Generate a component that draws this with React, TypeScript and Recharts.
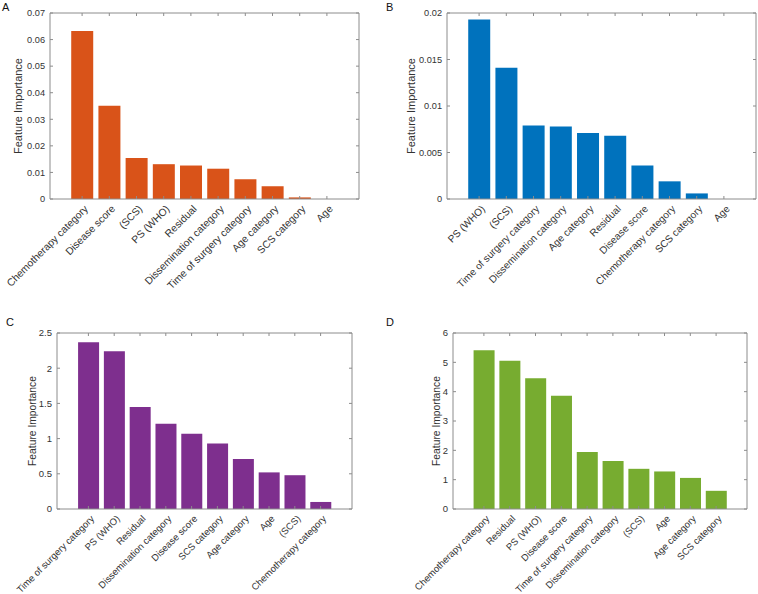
import { Bar, BarChart, XAxis, YAxis } from 'recharts';

// panel A
const featuresA = ['Chemotherapy category', 'Disease score', '(SCS)', 'PS (WHO)', 'Residual', 'Dissemination category', 'Time of surgery category', 'Age category', 'SCS category', 'Age'];
const valuesA = [0.0632, 0.0351, 0.0154, 0.0131, 0.0126, 0.0114, 0.0074, 0.0048, 0.0006, 0];
const ticksA = [0, 0.01, 0.02, 0.03, 0.04, 0.05, 0.06, 0.07];

// panel B
const featuresB = ['PS (WHO)', '(SCS)', 'Time of surgery category', 'Dissemination category', 'Age category', 'Residual', 'Disease score', 'Chemotherapy category', 'SCS category', 'Age'];
const valuesB = [0.0193, 0.0141, 0.0079, 0.0078, 0.0071, 0.0068, 0.0036, 0.0019, 0.0006, 0];
const ticksB = [0, 0.005, 0.01, 0.015, 0.02];

// panel C
const featuresC = ['Time of surgery category', 'PS (WHO)', 'Residual', 'Dissemination category', 'Disease score', 'SCS category', 'Age category', 'Age', '(SCS)', 'Chemotherapy category'];
const valuesC = [2.37, 2.24, 1.45, 1.21, 1.07, 0.93, 0.71, 0.52, 0.48, 0.1];
const ticksC = [0, 0.5, 1, 1.5, 2, 2.5];

// panel D
const featuresD = ['Chemotherapy category', 'Residual', 'PS (WHO)', 'Disease score', 'Time of surgery category', 'Dissemination category', '(SCS)', 'Age', 'Age category', 'SCS category'];
const valuesD = [5.41, 5.05, 4.46, 3.86, 1.94, 1.64, 1.37, 1.28, 1.06, 0.62];
const ticksD = [0, 1, 2, 3, 4, 5, 6];

const FONT = '"Liberation Sans", Arial, Helvetica, sans-serif';
const BOX = '#8c8c8c';
const TEXT = '#333333';

const toRows = (features: string[], values: number[]) =>
  features.map((feature, i) => ({ feature, value: values[i] }));

const Empty = () => <g />;

type PanelProps = {
  features: string[];
  values: number[];
  ticks: number[];
  color: string;
  left: number;
  top: number;
  margin: { top: number; right: number; bottom: number; left: number };
  xHeight: number;
  pad: number;
  labelSize: number;
  tickSize: number;
};

function Panel({ features, values, ticks, color, left, top, margin, xHeight, pad, labelSize, tickSize }: PanelProps) {
  const yMax = ticks[ticks.length - 1];
  const line = { stroke: BOX, strokeWidth: 1 };
  const CategoryTick = (props: any) => {
    const { x, y, payload } = props;
    const tx = x + 4;
    const ty = y + 8;
    return (
      <text x={tx} y={ty} dy="0.35em" textAnchor="end" transform={`rotate(-45 ${tx} ${ty})`}
        fontSize={labelSize} fill={TEXT} fontFamily={FONT}>
        {payload.value}
      </text>
    );
  };
  return (
    <div style={{ position: 'absolute', left, top }}>
      <BarChart width={379} height={297} data={toRows(features, values)} margin={margin} barCategoryGap="10%">
        <XAxis dataKey="feature" interval={0} height={xHeight} padding={{ left: pad, right: pad }}
          axisLine={line} tickLine={line} tickSize={-3} tickMargin={3} tick={<CategoryTick />} />
        <XAxis xAxisId="top" dataKey="feature" orientation="top" height={1} padding={{ left: pad, right: pad }}
          axisLine={line} tickLine={line} tickSize={-3} tick={<Empty />} interval={0} />
        <YAxis type="number" domain={[0, yMax]} ticks={ticks} width={40} tickSize={-3} tickMargin={8}
          axisLine={line} tickLine={line}
          allowDataOverflow tick={{ fill: TEXT, fontSize: tickSize, fontFamily: FONT }} />
        <YAxis yAxisId="right" orientation="right" type="number" domain={[0, yMax]} ticks={ticks} width={1}
          axisLine={line} tickLine={line} tickSize={-3} allowDataOverflow tick={<Empty />} />
        <Bar dataKey="value" fill={color} isAnimationActive={false} />
      </BarChart>
    </div>
  );
}

export default function App() {
  const letter = { fontSize: 11, fill: '#111', fontFamily: FONT };
  const ylab = (x: number, y: number, size: number) => (
    <text x={x} y={y} dy="0.35em" textAnchor="middle" transform={`rotate(-90 ${x} ${y})`}
      fontSize={size} fill={TEXT} fontFamily={FONT}>
      Feature Importance
    </text>
  );
  return (
    <div style={{ position: 'absolute', left: 0, top: 0, width: 758, height: 594, background: '#fff' }}>
      <Panel features={featuresA} values={valuesA} ticks={ticksA} color="#D95319" left={0} top={0}
        margin={{ top: 12, right: 19, bottom: 8, left: 10 }} xHeight={90} pad={18.5} labelSize={10.3} tickSize={9.2} />
      <Panel features={featuresB} values={valuesB} ticks={ticksB} color="#0072BD" left={379} top={0}
        margin={{ top: 12, right: 1, bottom: 8, left: 28 }} xHeight={90} pad={18.5} labelSize={10.1} tickSize={9.2} />
      <Panel features={featuresC} values={valuesC} ticks={ticksC} color="#7E2F8E" left={0} top={297}
        margin={{ top: 35, right: 26, bottom: 5, left: 17 }} xHeight={80} pad={18.5} labelSize={9.5} tickSize={9.5} />
      <Panel features={featuresD} values={valuesD} ticks={ticksD} color="#77AC30" left={379} top={297}
        margin={{ top: 35, right: 10, bottom: 5, left: 34 }} xHeight={80} pad={18} labelSize={9.5} tickSize={9.5} />
      <svg width={758} height={594} style={{ position: 'absolute', left: 0, top: 0, pointerEvents: 'none' }}>
        <text x={2} y={11} {...letter}>A</text>
        <text x={386} y={11} {...letter}>B</text>
        <text x={6} y={326} {...letter}>C</text>
        <text x={386} y={326} {...letter}>D</text>
        {ylab(18, 106, 11)}
        {ylab(411, 106, 11)}
        {ylab(32, 421, 10.3)}
        {ylab(436, 421, 10.3)}
      </svg>
    </div>
  );
}
